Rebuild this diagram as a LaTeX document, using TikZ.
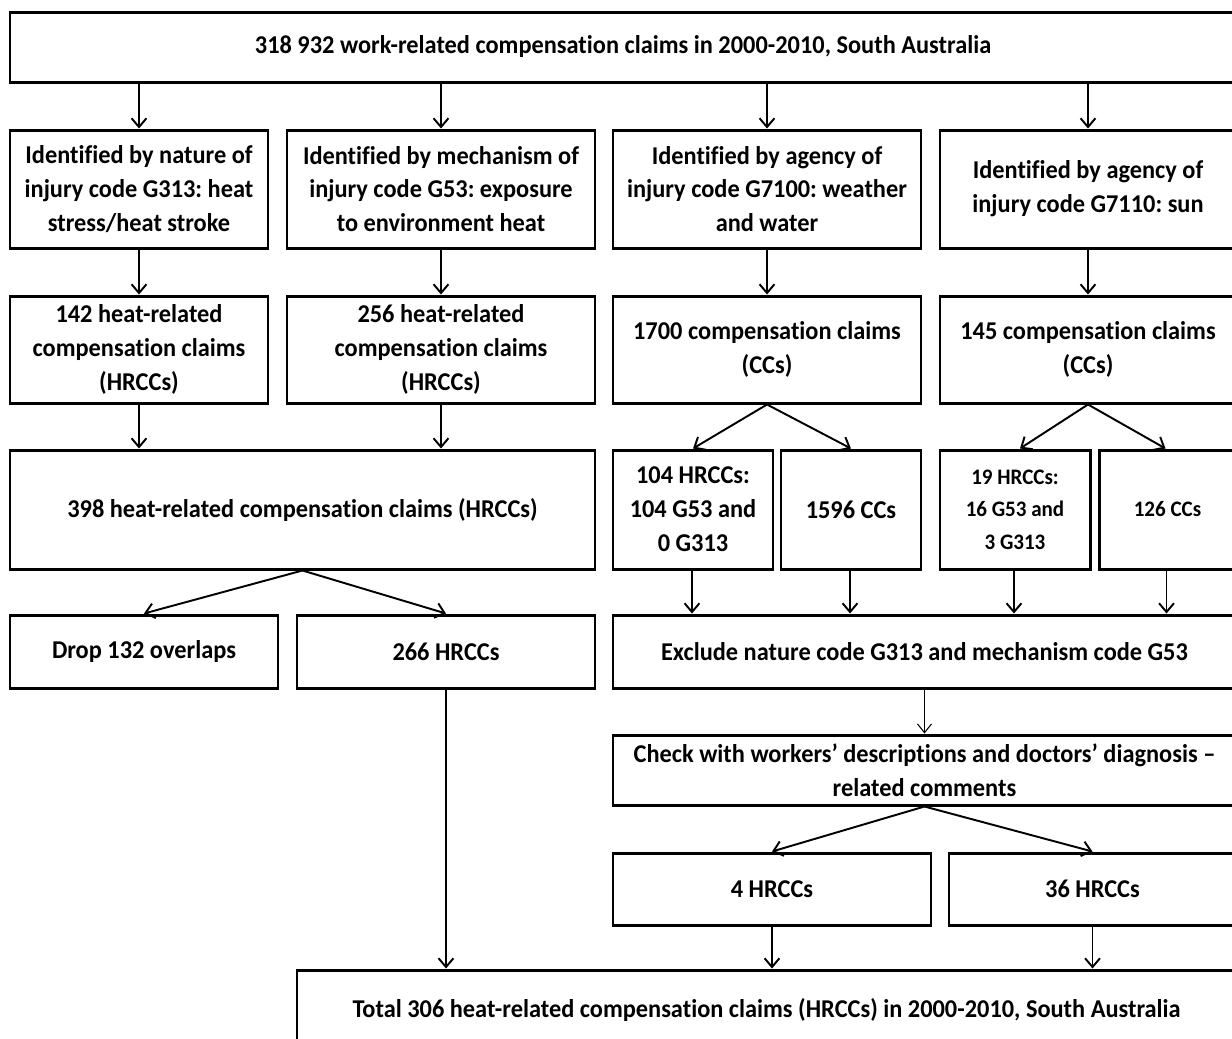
\documentclass[tikz,border=0pt]{standalone}
\usepackage{fontspec}
\setmainfont{Carlito}[Ligatures={NoCommon}, FakeStretch=0.95]
\usetikzlibrary{arrows.meta}
\tikzset{
  box/.style={draw, line width=1.7pt, inner sep=0pt, align=center,
    font=\fontsize{14.6}{19.3}\selectfont\bfseries\frenchspacing},
  smallbox/.style={box, font=\fontsize{12.6}{18.4}\selectfont\bfseries\frenchspacing},
  arr/.style={line width=1.1pt, -{Straight Barb[length=5pt,width=8.5pt,line width=1.1pt]}},
  thinarr/.style={line width=0.6pt, -{Straight Barb[length=5pt,width=8pt,line width=0.6pt]}},
}
\begin{document}
\begin{tikzpicture}[x=0.02cm, y=-0.02cm]
\useasboundingbox (0,0) rectangle (1232,1039);
\clip (0,0) rectangle (1232,1039);
% row 1
\node[box, minimum width=1226*0.02cm, minimum height=70*0.02cm] (top) at (623,47)
  {318 932 work-related compensation claims in 2000-2010, South Australia};
% row 2
\node[box, minimum width=258*0.02cm, minimum height=118*0.02cm] (a2) at (139,189)
  {Identified by nature of\\injury code G313: heat\\stress/heat stroke};
\node[box, minimum width=308*0.02cm, minimum height=118*0.02cm] (b2) at (441,189)
  {Identified by mechanism of\\injury code G53: exposure\\to environment heat};
\node[box, minimum width=308*0.02cm, minimum height=118*0.02cm] (c2) at (767,189)
  {Identified by agency of\\injury code G7100: weather\\and water};
\node[box, minimum width=296*0.02cm, minimum height=118*0.02cm] (d2) at (1088,189)
  {Identified by agency of\\injury code G7110: sun};
% row 3
\node[box, minimum width=258*0.02cm, minimum height=107*0.02cm] (a3) at (139,349.5)
  {142 heat-related\\compensation claims\\(HRCCs)};
\node[box, minimum width=308*0.02cm, minimum height=107*0.02cm] (b3) at (441,349.5)
  {256 heat-related\\compensation claims\\(HRCCs)};
\node[box, minimum width=308*0.02cm, minimum height=107*0.02cm] (c3) at (767,349.5)
  {1700 compensation claims\\(CCs)};
\node[box, minimum width=296*0.02cm, minimum height=107*0.02cm] (d3) at (1088,349.5)
  {145 compensation claims\\(CCs)};
% row 4
\node[box, minimum width=585*0.02cm, minimum height=119*0.02cm] (ab4) at (302.5,509.5)
  {398 heat-related compensation claims (HRCCs)};
\node[box, minimum width=160*0.02cm, minimum height=119*0.02cm] (c4a) at (693,509.5)
  {104 HRCCs:\\104 G53 and\\0 G313};
\node[box, minimum width=140*0.02cm, minimum height=119*0.02cm] (c4b) at (851,509.5)
  {1596 CCs};
\node[smallbox, minimum width=150*0.02cm, minimum height=119*0.02cm] (d4a) at (1015,509.5)
  {19 HRCCs:\\16 G53 and\\3 G313};
\node[smallbox, minimum width=137*0.02cm, minimum height=119*0.02cm] (d4b) at (1167.5,509.5)
  {126 CCs};
% row 5
\node[box, minimum width=268*0.02cm, minimum height=73*0.02cm] (drop) at (144,651.5)
  {Drop 132 overlaps};
\node[box, minimum width=298*0.02cm, minimum height=73*0.02cm] (h266) at (446,651.5)
  {266 HRCCs};
\node[box, minimum width=623*0.02cm, minimum height=73*0.02cm] (excl) at (924.5,651.5)
  {Exclude nature code G313 and mechanism code G53};
% row 6
\node[box, minimum width=623*0.02cm, minimum height=70*0.02cm] (check) at (924.5,770)
  {Check with workers’ descriptions and doctors’ diagnosis –\\related comments};
% row 7
\node[box, minimum width=318*0.02cm, minimum height=72*0.02cm] (h4) at (772,889)
  {4 HRCCs};
\node[box, minimum width=287*0.02cm, minimum height=72*0.02cm] (h36) at (1092.5,889)
  {36 HRCCs};
% row 8
\node[box, minimum width=939*0.02cm, minimum height=80*0.02cm] (tot) at (766.5,1010)
  {Total 306 heat-related compensation claims (HRCCs) in 2000-2010, South Australia};
% connectors
\foreach \n in {a2,b2,c2,d2}
  \draw[arr] (top.south -| \n.north) -- (\n.north);
\foreach \s/\t in {a2/a3,b2/b3,c2/c3,d2/d3}
  \draw[arr] (\s.south) -- (\t.north);
\draw[arr] (a3.south) -- (a3.south |- ab4.north);
\draw[arr] (b3.south) -- (b3.south |- ab4.north);
\draw[arr] (c3.south) -- (c4a.north);
\draw[arr] (c3.south) -- (c4b.north);
\draw[arr] (d3.south) -- ([xshift=5*0.02cm]d4a.north);
\draw[arr] (d3.south) -- ([xshift=-2*0.02cm]d4b.north);
\draw[arr] (ab4.south) -- (drop.north);
\draw[arr] (ab4.south) -- (h266.north);
\foreach \n in {c4a,c4b,d4a,d4b}
  \draw[arr] ([xshift=-1*0.02cm]\n.south) -- ([xshift=-1*0.02cm]\n.south |- excl.north);
\draw[thinarr] (excl.south) -- (check.north);
\draw[arr] (check.south) -- (h4.north);
\draw[arr] (check.south) -- (h36.north);
\draw[arr] (h266.south) -- (h266.south |- tot.north);
\draw[arr] (h4.south) -- (h4.south |- tot.north);
\draw[arr] (h36.south) -- (h36.south |- tot.north);
\end{tikzpicture}
\end{document}
